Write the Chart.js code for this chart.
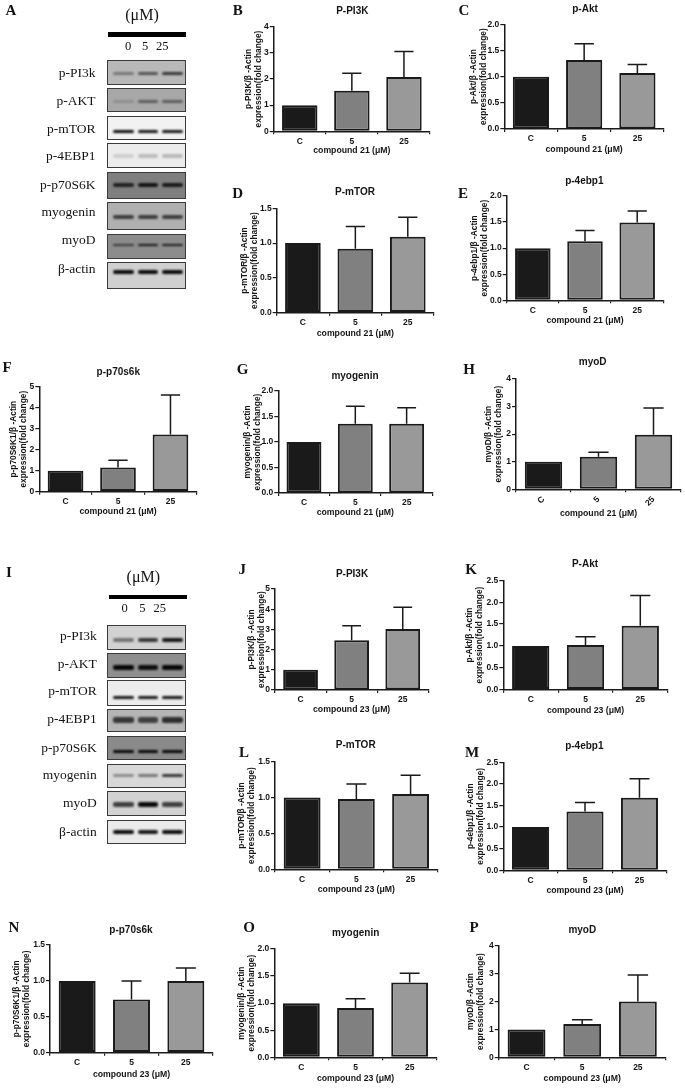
<!DOCTYPE html>
<html><head><meta charset="utf-8">
<script src="https://cdn.jsdelivr.net/npm/chart.js@4"></script>
<style>
html,body{margin:0;padding:0;background:#fff;width:685px;height:1088px;overflow:hidden}
#page{position:absolute;left:0;top:0;width:685px;height:1088px;overflow:hidden;filter:blur(.45px);background:#fff}
canvas{position:absolute}
.t{position:absolute;white-space:nowrap;color:#111;font-family:"Liberation Serif",serif;line-height:1;opacity:.99}
.blot{position:absolute;box-sizing:border-box;border:1.2px solid #3a3a3a;overflow:hidden}
.band{position:absolute;background:#000;filter:blur(1px);border-radius:2px}
.bar{position:absolute;background:#000}
</style></head><body><div id="page"></div>
<script>
// ---------- data ----------
const categories = ['C', '5', '25'];
const barColors = ['#1a1a1a', '#808080', '#999999'];
const xLabel21 = 'compound 21 (\u03bcM)';
const xLabel23 = 'compound 23 (\u03bcM)';

const titleNames21 = ['P-PI3K', 'p-Akt', 'P-mTOR', 'p-4ebp1', 'p-p70s6k', 'myogenin', 'myoD'];
const titleNames23 = ['P-PI3K', 'P-Akt', 'P-mTOR', 'p-4ebp1', 'p-p70s6k', 'myogenin', 'myoD'];

const means_B = [1, 1.55, 2.08];  const upper_B = [null, 2.22, 3.05];
const means_C = [1, 1.32, 1.07];  const upper_C = [null, 1.63, 1.23];
const means_D = [1, 0.92, 1.09];  const upper_D = [null, 1.24, 1.37];
const means_E = [1, 1.13, 1.49];  const upper_E = [null, 1.34, 1.71];
const means_F = [1, 1.15, 2.72];  const upper_F = [null, 1.50, 4.60];
const means_G = [1, 1.36, 1.36];  const upper_G = [null, 1.70, 1.67];
const means_H = [1, 1.18, 1.98];  const upper_H = [null, 1.34, 2.95];
const means_J = [1, 2.46, 3.02];  const upper_J = [null, 3.18, 4.10];
const means_K = [1, 1.02, 1.46];  const upper_K = [null, 1.21, 2.15];
const means_L = [1, 0.98, 1.05];  const upper_L = [null, 1.19, 1.31];
const means_M = [1, 1.36, 1.68];  const upper_M = [null, 1.57, 2.12];
const means_N = [1, 0.74, 1.00];  const upper_N = [null, 1.00, 1.18];
const means_O = [1, 0.91, 1.38];  const upper_O = [null, 1.08, 1.55];
const means_P = [1, 1.19, 2.00];  const upper_P = [null, 1.35, 2.95];

const blotLabels = ['p-PI3k', 'p-AKT', 'p-mTOR', 'p-4EBP1', 'p-p70S6K', 'myogenin', 'myoD', '\u03b2-actin'];
const doseLabels = ['0', '5', '25'];

// ---------- layout ----------
const panels = [
 {l:'B',m:means_B,u:upper_B,t:titleNames21[0],y1:'p-PI3K/\u03b2 -Actin',x:xLabel21,max:4,step:1,dec:0,pl:273.7,pr:430,pt:26.7,pb:131.3,tx:352.3,ty:11,yx:248.3,gap:19.7,lx:237.7,ly:10},
 {l:'C',m:means_C,u:upper_C,t:titleNames21[1],y1:'p-Akt/\u03b2 -Actin',x:xLabel21,max:2,step:.5,dec:1,pl:504.3,pr:664,pt:24.3,pb:129,tx:585,ty:9.3,yx:473.3,gap:20.3,lx:464,ly:10},
 {l:'D',m:means_D,u:upper_D,t:titleNames21[2],y1:'p-mTOR/\u03b2 -Actin',x:xLabel21,max:1.5,step:.5,dec:1,pl:276.7,pr:434,pt:208.3,pb:312.7,tx:355,ty:192.7,yx:245,gap:20.6,lx:237.7,ly:193},
 {l:'E',m:means_E,u:upper_E,t:titleNames21[3],y1:'p-4ebp1/\u03b2 -Actin',x:xLabel21,max:2,step:.5,dec:1,pl:506.7,pr:663.3,pt:196,pb:300.3,tx:584.3,ty:181,yx:474.3,gap:20,lx:463,ly:193},
 {l:'F',m:means_F,u:upper_F,t:titleNames21[4],y1:'p-p70S6K1/\u03b2 -Actin',x:xLabel21,max:5,step:1,dec:0,pl:39.3,pr:196.7,pt:386.7,pb:491.7,tx:118.3,ty:372.7,yx:13.3,gap:20,lx:7,ly:367},
 {l:'G',m:means_G,u:upper_G,t:titleNames21[5],y1:'myogenin/\u03b2 -Actin',x:xLabel21,max:2,step:.5,dec:1,pl:278.3,pr:432.3,pt:391,pb:493,tx:355,ty:376,yx:247.7,gap:19.7,lx:242.7,ly:369},
 {l:'H',m:means_H,u:upper_H,t:titleNames21[6],y1:'myoD/\u03b2 -Actin',x:xLabel21,max:4,step:1,dec:0,pl:516,pr:681,pt:379,pb:489.3,tx:592.7,ty:362.7,yx:488.3,gap:24.7,lx:469,ly:369,rot:45},
 {l:'J',m:means_J,u:upper_J,t:titleNames23[0],y1:'p-PI3K/\u03b2 -Actin',x:xLabel23,max:5,step:1,dec:0,pl:275,pr:428.3,pt:589,pb:690,tx:352,ty:574,yx:251.7,gap:19.3,lx:242.3,ly:569},
 {l:'K',m:means_K,u:upper_K,t:titleNames23[1],y1:'p-Akt/\u03b2 -Actin',x:xLabel23,max:2.5,step:.5,dec:1,pl:503.3,pr:667.7,pt:580.3,pb:689.7,tx:585,ty:564,yx:470,gap:20.6,lx:471,ly:569},
 {l:'L',m:means_L,u:upper_L,t:titleNames23[2],y1:'p-mTOR/\u03b2 -Actin',x:xLabel23,max:1.5,step:.5,dec:1,pl:275,pr:437.7,pt:761.7,pb:869.3,tx:355.7,ty:745,yx:241.7,gap:20.7,lx:244,ly:752.7},
 {l:'M',m:means_M,u:upper_M,t:titleNames23[3],y1:'p-4ebp1/\u03b2 -Actin',x:xLabel23,max:2.5,step:.5,dec:1,pl:503.3,pr:666.7,pt:762.3,pb:870.3,tx:584.3,ty:746.7,yx:470.7,gap:20.4,lx:472,ly:752},
 {l:'N',m:means_N,u:upper_N,t:titleNames23[4],y1:'p-p70S6K1/\u03b2 -Actin',x:xLabel23,max:1.5,step:.5,dec:1,pl:50,pr:213,pt:945,pb:1052.7,tx:131,ty:930,yx:16.7,gap:21.6,lx:14,ly:927},
 {l:'O',m:means_O,u:upper_O,t:titleNames23[5],y1:'myogenin/\u03b2 -Actin',x:xLabel23,max:2,step:.5,dec:1,pl:274.3,pr:436.7,pt:949,pb:1057.3,tx:355.7,ty:933.3,yx:241.7,gap:21,lx:249,ly:927.7},
 {l:'P',m:means_P,u:upper_P,t:titleNames23[6],y1:'myoD/\u03b2 -Actin',x:xLabel23,max:4,step:1,dec:0,pl:498.7,pr:665.7,pt:945.7,pb:1057.3,tx:582.3,ty:930,yx:470.7,gap:21.7,lx:474,ly:927.7}
];

const blotRowsA = [
 {top:60,bottom:85.3,ly:72.7,bg:'#b8b8b8',y:.5,th:3,d:[.35,.55,.7]},
 {top:88.3,bottom:112.3,ly:100.7,bg:'#a8a8a8',y:.5,th:3,d:[.15,.45,.45]},
 {top:115.7,bottom:140,ly:128.3,bg:'#f2f2f2',y:.6,th:3.5,d:[.95,.9,.9]},
 {top:143.3,bottom:168.3,ly:156,bg:'#ececec',y:.45,th:4,d:[.12,.2,.22]},
 {top:172,bottom:198.7,ly:184.3,bg:'#7f7f7f',y:.45,th:4,d:[.75,.85,.8]},
 {top:202,bottom:230,ly:212,bg:'#b0b0b0',y:.5,th:4,d:[.65,.65,.65]},
 {top:233.7,bottom:259.3,ly:240,bg:'#8c8c8c',y:.4,th:2.5,d:[.6,.85,.8]},
 {top:262,bottom:288.7,ly:269,bg:'#cfcfcf',y:.35,th:4,d:[.95,.95,.95]}
];
const blotRowsI = [
 {top:625,bottom:650,ly:636,bg:'#d2d2d2',y:.55,th:3.5,d:[.45,.75,.9]},
 {top:653,bottom:677.7,ly:663.3,bg:'#8f8f8f',y:.55,th:5,d:[.95,.9,.95]},
 {top:680.3,bottom:706,ly:691,bg:'#ececec',y:.62,th:3,d:[.9,.9,.9]},
 {top:709.3,bottom:732,ly:718.7,bg:'#b5b5b5',y:.42,th:6,d:[.7,.65,.75]},
 {top:736.3,bottom:760.3,ly:747.3,bg:'#8a8a8a',y:.6,th:3.5,d:[.95,.95,.95]},
 {top:763.7,bottom:788,ly:774.7,bg:'#d8d8d8',y:.45,th:3,d:[.35,.45,.75]},
 {top:791.3,bottom:816,ly:802.3,bg:'#d2d2d2',y:.5,th:4.5,d:[.7,.95,.7]},
 {top:819.7,bottom:844.3,ly:831.7,bg:'#ebebeb',y:.45,th:3.5,d:[.95,.9,.95]}
];

const page = document.getElementById('page');
const INK = '#1a1a1a';
const TEXT = '#141414';
const SANS = '"Liberation Sans", Arial, sans-serif';

function addText(txt, x, y, size, opts) {
  opts = opts || {};
  const d = document.createElement('div');
  d.className = 't';
  d.textContent = txt;
  d.style.fontSize = size + 'px';
  d.style.top = (y - size / 2) + 'px';
  if (opts.bold) d.style.fontWeight = 'bold';
  if (opts.right != null) { d.style.right = (685 - opts.right) + 'px'; }
  else { d.style.left = x + 'px'; d.style.transform = 'translateX(-50%)'; }
  page.appendChild(d);
}

function drawBlot(letter, lx, ly, rows, left, right, labelRight, mx, my, barL, barR, barT, barB, doseX, doseY) {
  addText(letter, lx, ly, 15, {bold: true});
  addText('(\u03bcM)', mx, my, 16);
  const b = document.createElement('div');
  b.className = 'bar';
  b.style.cssText = `left:${barL}px;width:${barR - barL}px;top:${barT}px;height:${barB - barT}px`;
  page.appendChild(b);
  doseLabels.forEach((s, i) => addText(s, doseX[i], doseY, 12.5));
  rows.forEach((r, i) => {
    addText(blotLabels[i], 0, r.ly, 13.5, {right: labelRight});
    const box = document.createElement('div');
    box.className = 'blot';
    box.style.cssText = `left:${left}px;width:${right - left}px;top:${r.top}px;height:${r.bottom - r.top}px;background:${r.bg}`;
    const w = right - left, h = r.bottom - r.top;
    r.d.forEach((a, j) => {
      const s = document.createElement('div');
      s.className = 'band';
      const cx = [.2, .51, .82][j] * w, bw = .26 * w;
      s.style.cssText = `left:${cx - bw / 2}px;width:${bw}px;top:${r.y * h - r.th / 2}px;height:${r.th}px;opacity:${a}`;
      box.appendChild(s);
    });
    page.appendChild(box);
  });
}

drawBlot('A', 11, 10, blotRowsA, 106.7, 186, 95.5, 142, 15, 108.3, 186, 32.3, 37.3, [128, 145, 162.3], 46.7);
drawBlot('I', 9, 572, blotRowsI, 106.7, 185.7, 96.7, 143.3, 576.7, 109.3, 186.7, 594.7, 599.3, [124.7, 142.3, 159.7], 608.3);

// ---------- plugins ----------
const errorBars = {
  id: 'errorBars',
  afterDatasetsDraw(chart, args, opts) {
    const ctx = chart.ctx, meta = chart.getDatasetMeta(0), y = chart.scales.y;
    ctx.save();
    ctx.strokeStyle = INK;
    ctx.lineWidth = 1.5;
    opts.upper.forEach((u, i) => {
      if (u == null) return;
      const bar = meta.data[i], yU = y.getPixelForValue(u), cap = bar.width * 0.27;
      ctx.beginPath();
      ctx.moveTo(bar.x, bar.y);
      ctx.lineTo(bar.x, yU);
      ctx.moveTo(bar.x - cap, yU);
      ctx.lineTo(bar.x + cap, yU);
      ctx.stroke();
    });
    ctx.restore();
  }
};
const titleCentre = {
  id: 'titleCentre',
  afterLayout(chart, args, opts) {
    if (chart.titleBlock) {
      chart.titleBlock.left = opts.cx - 100;
      chart.titleBlock.right = opts.cx + 100;
    }
  }
};

// ---------- charts ----------
panels.forEach(p => {
  addText(p.l, p.lx, p.ly, 15, {bold: true});
  const cLeft = Math.floor(p.yx - 6);
  const cTop = Math.floor(p.ty - 6);
  const cRight = Math.ceil(p.pr + 8);
  const cBottom = Math.ceil(p.pb + p.gap + 8);
  const canvas = document.createElement('canvas');
  canvas.width = cRight - cLeft;
  canvas.height = cBottom - cTop;
  canvas.style.left = cLeft + 'px';
  canvas.style.top = cTop + 'px';
  page.appendChild(canvas);
  const scaleW = p.pl - cLeft;
  const xH = cBottom - p.pb;
  new Chart(canvas, {
    type: 'bar',
    data: {
      labels: categories,
      datasets: [{
        data: p.m,
        backgroundColor: barColors,
        borderColor: INK,
        borderWidth: 2,
        borderSkipped: false,
        barPercentage: 0.68,
        categoryPercentage: 1
      }]
    },
    plugins: [errorBars, titleCentre],
    options: {
      responsive: false,
      animation: false,
      layout: {padding: {left: 0, right: cRight - p.pr, top: 0, bottom: 0}},
      plugins: {
        legend: {display: false},
        tooltip: {enabled: false},
        title: {
          display: true,
          text: p.t,
          color: TEXT,
          font: {family: SANS, size: 10, weight: 'bold', lineHeight: 1.2},
          padding: {top: 0, bottom: p.pt - (cTop + 12)}
        },
        errorBars: {upper: p.u},
        titleCentre: {cx: p.tx - cLeft}
      },
      scales: {
        x: {
          afterFit(s) { s.height = xH; },
          border: {color: INK, width: 1.5},
          grid: {drawOnChartArea: false, drawTicks: true, tickLength: 3, color: INK, lineWidth: 1.2},
          ticks: {color: TEXT, font: {family: SANS, size: 8.5, weight: 'bold'}, padding: 2,
                  autoSkip: false, minRotation: p.rot || 0, maxRotation: p.rot || 0},
          title: {display: true, text: p.x, color: TEXT,
                  font: {family: SANS, size: 8.7, weight: 'bold', lineHeight: 1.2},
                  padding: {top: 0, bottom: xH - p.gap - 5.2}}
        },
        y: {
          min: 0, max: p.max,
          afterFit(s) { s.width = scaleW; },
          border: {color: INK, width: 1.5},
          grid: {drawOnChartArea: false, drawTicks: true, tickLength: 4, color: INK, lineWidth: 1.2},
          ticks: {stepSize: p.step, color: TEXT, font: {family: SANS, size: 8.5, weight: 'bold'}, padding: 1,
                  callback: v => Number(v).toFixed(p.dec)},
          title: {display: true, text: [p.y1, 'expression(fold change)'], color: TEXT,
                  font: {family: SANS, size: 8.4, weight: 'bold', lineHeight: 1.2},
                  padding: {top: p.yx - 5 - cLeft, bottom: 0}}
        }
      }
    }
  });
});
</script></body></html>
